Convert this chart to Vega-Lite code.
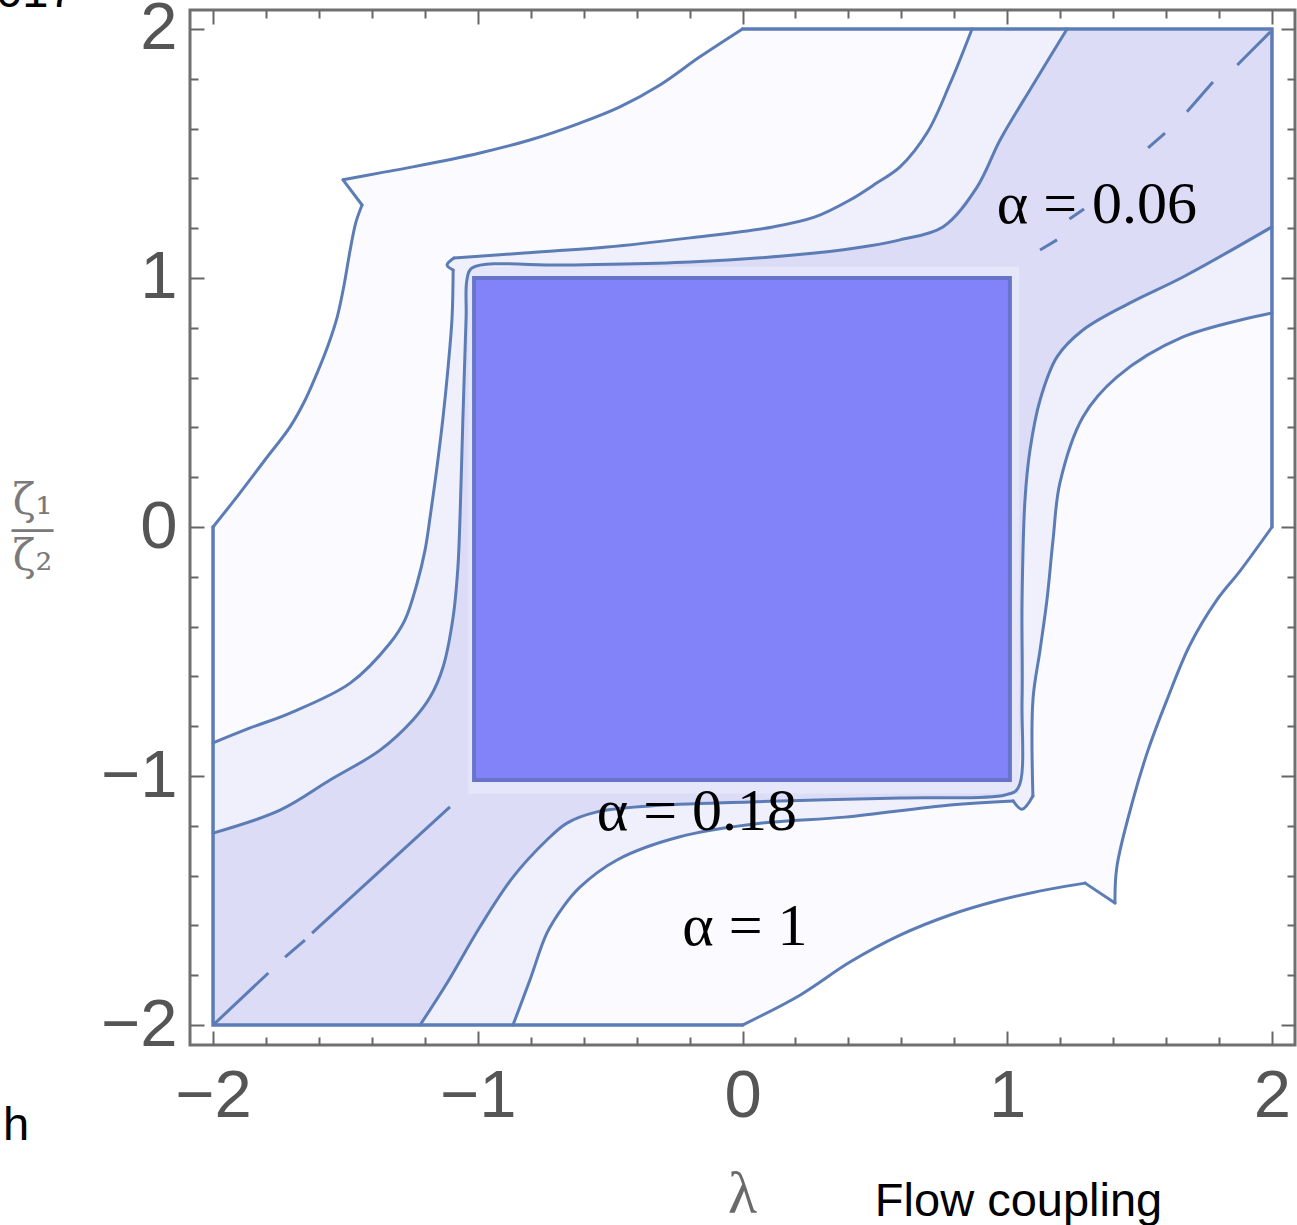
{
  "$schema": "https://vega.github.io/schema/vega-lite/v6.json",
  "width": 1105,
  "height": 1035,
  "autosize": {"type": "none"},
  "padding": {"left": 190, "top": 10, "right": 2, "bottom": 180},
  "background": "white",
  "config": {"view": {"stroke": "#707070", "strokeWidth": 3}},
  "datasets": {
    "poly": [
      {"r":"F0","i":0,"x":-2,"y":0},{"r":"F0","i":1,"x":-1.898,"y":0.137},{"r":"F0","i":2,"x":-1.804,"y":0.269},{"r":"F0","i":3,"x":-1.709,"y":0.402},{"r":"F0","i":4,"x":-1.652,"y":0.51},{"r":"F0","i":5,"x":-1.607,"y":0.618},{"r":"F0","i":6,"x":-1.565,"y":0.731},{"r":"F0","i":7,"x":-1.531,"y":0.843},{"r":"F0","i":8,"x":-1.505,"y":0.972},{"r":"F0","i":9,"x":-1.482,"y":1.112},{"r":"F0","i":10,"x":-1.46,"y":1.225},{"r":"F0","i":11,"x":-1.437,"y":1.293},{"r":"F0","i":12,"x":-1.509,"y":1.394},{"r":"F0","i":13,"x":-1.369,"y":1.422},{"r":"F0","i":14,"x":-1.245,"y":1.446},{"r":"F0","i":15,"x":-0.992,"y":1.502},{"r":"F0","i":16,"x":-0.803,"y":1.554},{"r":"F0","i":17,"x":-0.614,"y":1.622},{"r":"F0","i":18,"x":-0.463,"y":1.687},{"r":"F0","i":19,"x":-0.312,"y":1.775},{"r":"F0","i":20,"x":-0.161,"y":1.888},{"r":"F0","i":21,"x":0,"y":2},{"r":"F0","i":22,"x":2,"y":2},{"r":"F0","i":23,"x":2,"y":0},{"r":"F0","i":24,"x":1.879,"y":-0.177},{"r":"F0","i":25,"x":1.792,"y":-0.293},{"r":"F0","i":26,"x":1.69,"y":-0.474},{"r":"F0","i":27,"x":1.603,"y":-0.695},{"r":"F0","i":28,"x":1.532,"y":-0.896},{"r":"F0","i":29,"x":1.475,"y":-1.096},{"r":"F0","i":30,"x":1.414,"y":-1.365},{"r":"F0","i":31,"x":1.407,"y":-1.51},{"r":"F0","i":32,"x":1.294,"y":-1.43},{"r":"F0","i":33,"x":1.161,"y":-1.454},{"r":"F0","i":34,"x":0.973,"y":-1.498},{"r":"F0","i":35,"x":0.784,"y":-1.558},{"r":"F0","i":36,"x":0.595,"y":-1.639},{"r":"F0","i":37,"x":0.406,"y":-1.747},{"r":"F0","i":38,"x":0.217,"y":-1.88},{"r":"F0","i":39,"x":0,"y":-2},{"r":"F0","i":40,"x":-2,"y":-2},{"r":"F0","i":41,"x":-2,"y":0},
      {"r":"F1","i":0,"x":-2,"y":-0.867},{"r":"F1","i":1,"x":-1.86,"y":-0.807},{"r":"F1","i":2,"x":-1.709,"y":-0.747},{"r":"F1","i":3,"x":-1.482,"y":-0.627},{"r":"F1","i":4,"x":-1.331,"y":-0.466},{"r":"F1","i":5,"x":-1.275,"y":-0.373},{"r":"F1","i":6,"x":-1.229,"y":-0.225},{"r":"F1","i":7,"x":-1.199,"y":-0.092},{"r":"F1","i":8,"x":-1.18,"y":0.04},{"r":"F1","i":9,"x":-1.154,"y":0.241},{"r":"F1","i":10,"x":-1.131,"y":0.442},{"r":"F1","i":11,"x":-1.112,"y":0.643},{"r":"F1","i":12,"x":-1.097,"y":0.843},{"r":"F1","i":13,"x":-1.093,"y":1.032},{"r":"F1","i":14,"x":-1.116,"y":1.052},{"r":"F1","i":15,"x":-1.09,"y":1.08},{"r":"F1","i":16,"x":-0.825,"y":1.1},{"r":"F1","i":17,"x":-0.512,"y":1.124},{"r":"F1","i":18,"x":-0.198,"y":1.161},{"r":"F1","i":19,"x":0.115,"y":1.205},{"r":"F1","i":20,"x":0.274,"y":1.245},{"r":"F1","i":21,"x":0.406,"y":1.313},{"r":"F1","i":22,"x":0.508,"y":1.382},{"r":"F1","i":23,"x":0.595,"y":1.446},{"r":"F1","i":24,"x":0.699,"y":1.586},{"r":"F1","i":25,"x":0.785,"y":1.783},{"r":"F1","i":26,"x":0.867,"y":2},{"r":"F1","i":27,"x":2,"y":2},{"r":"F1","i":28,"x":2,"y":0.859},{"r":"F1","i":29,"x":1.664,"y":0.763},{"r":"F1","i":30,"x":1.414,"y":0.602},{"r":"F1","i":31,"x":1.286,"y":0.442},{"r":"F1","i":32,"x":1.199,"y":0.177},{"r":"F1","i":33,"x":1.173,"y":-0.052},{"r":"F1","i":34,"x":1.15,"y":-0.293},{"r":"F1","i":35,"x":1.124,"y":-0.494},{"r":"F1","i":36,"x":1.097,"y":-0.695},{"r":"F1","i":37,"x":1.097,"y":-1.08},{"r":"F1","i":38,"x":1.056,"y":-1.133},{"r":"F1","i":39,"x":1.022,"y":-1.1},{"r":"F1","i":40,"x":0.784,"y":-1.116},{"r":"F1","i":41,"x":0.387,"y":-1.165},{"r":"F1","i":42,"x":0.074,"y":-1.189},{"r":"F1","i":43,"x":-0.24,"y":-1.245},{"r":"F1","i":44,"x":-0.474,"y":-1.337},{"r":"F1","i":45,"x":-0.614,"y":-1.446},{"r":"F1","i":46,"x":-0.678,"y":-1.526},{"r":"F1","i":47,"x":-0.739,"y":-1.631},{"r":"F1","i":48,"x":-0.803,"y":-1.819},{"r":"F1","i":49,"x":-0.867,"y":-2},{"r":"F1","i":50,"x":-2,"y":-2},{"r":"F1","i":51,"x":-2,"y":-0.867},
      {"r":"F2","i":0,"x":-2,"y":-1.229},{"r":"F2","i":1,"x":-1.747,"y":-1.137},{"r":"F2","i":2,"x":-1.558,"y":-1.016},{"r":"F2","i":3,"x":-1.369,"y":-0.896},{"r":"F2","i":4,"x":-1.245,"y":-0.775},{"r":"F2","i":5,"x":-1.18,"y":-0.683},{"r":"F2","i":6,"x":-1.131,"y":-0.562},{"r":"F2","i":7,"x":-1.093,"y":-0.361},{"r":"F2","i":8,"x":-1.075,"y":-0.161},{"r":"F2","i":9,"x":-1.067,"y":0.04},{"r":"F2","i":10,"x":-1.056,"y":0.442},{"r":"F2","i":11,"x":-1.044,"y":0.843},{"r":"F2","i":12,"x":-1.041,"y":0.992},{"r":"F2","i":13,"x":-1.022,"y":1.04},{"r":"F2","i":14,"x":-0.667,"y":1.052},{"r":"F2","i":15,"x":-0.198,"y":1.064},{"r":"F2","i":16,"x":0.274,"y":1.1},{"r":"F2","i":17,"x":0.482,"y":1.129},{"r":"F2","i":18,"x":0.595,"y":1.153},{"r":"F2","i":19,"x":0.757,"y":1.205},{"r":"F2","i":20,"x":0.886,"y":1.365},{"r":"F2","i":21,"x":0.973,"y":1.554},{"r":"F2","i":22,"x":1.097,"y":1.775},{"r":"F2","i":23,"x":1.226,"y":2},{"r":"F2","i":24,"x":2,"y":2},{"r":"F2","i":25,"x":2,"y":1.205},{"r":"F2","i":26,"x":1.664,"y":1.004},{"r":"F2","i":27,"x":1.464,"y":0.9},{"r":"F2","i":28,"x":1.286,"y":0.791},{"r":"F2","i":29,"x":1.188,"y":0.683},{"r":"F2","i":30,"x":1.124,"y":0.51},{"r":"F2","i":31,"x":1.086,"y":0.309},{"r":"F2","i":32,"x":1.067,"y":0.108},{"r":"F2","i":33,"x":1.056,"y":-0.293},{"r":"F2","i":34,"x":1.056,"y":-0.695},{"r":"F2","i":35,"x":1.041,"y":-1.048},{"r":"F2","i":36,"x":0.992,"y":-1.076},{"r":"F2","i":37,"x":0.595,"y":-1.088},{"r":"F2","i":38,"x":0.028,"y":-1.104},{"r":"F2","i":39,"x":-0.349,"y":-1.12},{"r":"F2","i":40,"x":-0.553,"y":-1.145},{"r":"F2","i":41,"x":-0.663,"y":-1.189},{"r":"F2","i":42,"x":-0.739,"y":-1.257},{"r":"F2","i":43,"x":-0.867,"y":-1.406},{"r":"F2","i":44,"x":-0.992,"y":-1.606},{"r":"F2","i":45,"x":-1.116,"y":-1.831},{"r":"F2","i":46,"x":-1.218,"y":-2},{"r":"F2","i":47,"x":-2,"y":-2},{"r":"F2","i":48,"x":-2,"y":-1.229}
    ],
    "curves": [
      {"c":"L1a","i":0,"x":-2,"y":0},{"c":"L1a","i":1,"x":-1.898,"y":0.137},{"c":"L1a","i":2,"x":-1.804,"y":0.269},{"c":"L1a","i":3,"x":-1.709,"y":0.402},{"c":"L1a","i":4,"x":-1.652,"y":0.51},{"c":"L1a","i":5,"x":-1.607,"y":0.618},{"c":"L1a","i":6,"x":-1.565,"y":0.731},{"c":"L1a","i":7,"x":-1.531,"y":0.843},{"c":"L1a","i":8,"x":-1.505,"y":0.972},{"c":"L1a","i":9,"x":-1.482,"y":1.112},{"c":"L1a","i":10,"x":-1.46,"y":1.225},{"c":"L1a","i":11,"x":-1.437,"y":1.293},
      {"c":"L1t","i":0,"x":-1.437,"y":1.293},{"c":"L1t","i":1,"x":-1.509,"y":1.394},
      {"c":"L1b","i":0,"x":-1.509,"y":1.394},{"c":"L1b","i":1,"x":-1.369,"y":1.422},{"c":"L1b","i":2,"x":-1.245,"y":1.446},{"c":"L1b","i":3,"x":-0.992,"y":1.502},{"c":"L1b","i":4,"x":-0.803,"y":1.554},{"c":"L1b","i":5,"x":-0.614,"y":1.622},{"c":"L1b","i":6,"x":-0.463,"y":1.687},{"c":"L1b","i":7,"x":-0.312,"y":1.775},{"c":"L1b","i":8,"x":-0.161,"y":1.888},{"c":"L1b","i":9,"x":0,"y":2},
      {"c":"M1a","i":0,"x":0,"y":-2},{"c":"M1a","i":1,"x":0.217,"y":-1.88},{"c":"M1a","i":2,"x":0.406,"y":-1.747},{"c":"M1a","i":3,"x":0.595,"y":-1.639},{"c":"M1a","i":4,"x":0.784,"y":-1.558},{"c":"M1a","i":5,"x":0.973,"y":-1.498},{"c":"M1a","i":6,"x":1.161,"y":-1.454},{"c":"M1a","i":7,"x":1.294,"y":-1.43},
      {"c":"M1t","i":0,"x":1.294,"y":-1.43},{"c":"M1t","i":1,"x":1.407,"y":-1.51},
      {"c":"M1b","i":0,"x":1.407,"y":-1.51},{"c":"M1b","i":1,"x":1.414,"y":-1.365},{"c":"M1b","i":2,"x":1.475,"y":-1.096},{"c":"M1b","i":3,"x":1.532,"y":-0.896},{"c":"M1b","i":4,"x":1.603,"y":-0.695},{"c":"M1b","i":5,"x":1.69,"y":-0.474},{"c":"M1b","i":6,"x":1.792,"y":-0.293},{"c":"M1b","i":7,"x":1.879,"y":-0.177},{"c":"M1b","i":8,"x":2,"y":0},
      {"c":"L2a","i":0,"x":-2,"y":-0.867},{"c":"L2a","i":1,"x":-1.86,"y":-0.807},{"c":"L2a","i":2,"x":-1.709,"y":-0.747},{"c":"L2a","i":3,"x":-1.482,"y":-0.627},{"c":"L2a","i":4,"x":-1.331,"y":-0.466},{"c":"L2a","i":5,"x":-1.275,"y":-0.373},{"c":"L2a","i":6,"x":-1.229,"y":-0.225},{"c":"L2a","i":7,"x":-1.199,"y":-0.092},{"c":"L2a","i":8,"x":-1.18,"y":0.04},{"c":"L2a","i":9,"x":-1.154,"y":0.241},{"c":"L2a","i":10,"x":-1.131,"y":0.442},{"c":"L2a","i":11,"x":-1.112,"y":0.643},{"c":"L2a","i":12,"x":-1.097,"y":0.843},{"c":"L2a","i":13,"x":-1.093,"y":1.032},
      {"c":"L2n","i":0,"x":-1.093,"y":1.032},{"c":"L2n","i":1,"x":-1.116,"y":1.052},{"c":"L2n","i":2,"x":-1.09,"y":1.08},
      {"c":"L2b","i":0,"x":-1.09,"y":1.08},{"c":"L2b","i":1,"x":-0.825,"y":1.1},{"c":"L2b","i":2,"x":-0.512,"y":1.124},{"c":"L2b","i":3,"x":-0.198,"y":1.161},{"c":"L2b","i":4,"x":0.115,"y":1.205},{"c":"L2b","i":5,"x":0.274,"y":1.245},{"c":"L2b","i":6,"x":0.406,"y":1.313},{"c":"L2b","i":7,"x":0.508,"y":1.382},{"c":"L2b","i":8,"x":0.595,"y":1.446},{"c":"L2b","i":9,"x":0.699,"y":1.586},{"c":"L2b","i":10,"x":0.785,"y":1.783},{"c":"L2b","i":11,"x":0.867,"y":2},
      {"c":"M2a","i":0,"x":-0.867,"y":-2},{"c":"M2a","i":1,"x":-0.803,"y":-1.819},{"c":"M2a","i":2,"x":-0.739,"y":-1.631},{"c":"M2a","i":3,"x":-0.678,"y":-1.526},{"c":"M2a","i":4,"x":-0.614,"y":-1.446},{"c":"M2a","i":5,"x":-0.474,"y":-1.337},{"c":"M2a","i":6,"x":-0.24,"y":-1.245},{"c":"M2a","i":7,"x":0.074,"y":-1.189},{"c":"M2a","i":8,"x":0.387,"y":-1.165},{"c":"M2a","i":9,"x":0.784,"y":-1.116},{"c":"M2a","i":10,"x":1.022,"y":-1.1},
      {"c":"M2n","i":0,"x":1.022,"y":-1.1},{"c":"M2n","i":1,"x":1.056,"y":-1.133},{"c":"M2n","i":2,"x":1.097,"y":-1.08},
      {"c":"M2b","i":0,"x":1.097,"y":-1.08},{"c":"M2b","i":1,"x":1.097,"y":-0.695},{"c":"M2b","i":2,"x":1.124,"y":-0.494},{"c":"M2b","i":3,"x":1.15,"y":-0.293},{"c":"M2b","i":4,"x":1.173,"y":-0.052},{"c":"M2b","i":5,"x":1.199,"y":0.177},{"c":"M2b","i":6,"x":1.286,"y":0.442},{"c":"M2b","i":7,"x":1.414,"y":0.602},{"c":"M2b","i":8,"x":1.664,"y":0.763},{"c":"M2b","i":9,"x":2,"y":0.859},
      {"c":"L3","i":0,"x":-2,"y":-1.229},{"c":"L3","i":1,"x":-1.747,"y":-1.137},{"c":"L3","i":2,"x":-1.558,"y":-1.016},{"c":"L3","i":3,"x":-1.369,"y":-0.896},{"c":"L3","i":4,"x":-1.245,"y":-0.775},{"c":"L3","i":5,"x":-1.18,"y":-0.683},{"c":"L3","i":6,"x":-1.131,"y":-0.562},{"c":"L3","i":7,"x":-1.093,"y":-0.361},{"c":"L3","i":8,"x":-1.075,"y":-0.161},{"c":"L3","i":9,"x":-1.067,"y":0.04},{"c":"L3","i":10,"x":-1.056,"y":0.442},{"c":"L3","i":11,"x":-1.044,"y":0.843},{"c":"L3","i":12,"x":-1.041,"y":0.992},{"c":"L3","i":13,"x":-1.022,"y":1.04},{"c":"L3","i":14,"x":-0.667,"y":1.052},{"c":"L3","i":15,"x":-0.198,"y":1.064},{"c":"L3","i":16,"x":0.274,"y":1.1},{"c":"L3","i":17,"x":0.482,"y":1.129},{"c":"L3","i":18,"x":0.595,"y":1.153},{"c":"L3","i":19,"x":0.757,"y":1.205},{"c":"L3","i":20,"x":0.886,"y":1.365},{"c":"L3","i":21,"x":0.973,"y":1.554},{"c":"L3","i":22,"x":1.097,"y":1.775},{"c":"L3","i":23,"x":1.226,"y":2},
      {"c":"M3","i":0,"x":-1.218,"y":-2},{"c":"M3","i":1,"x":-1.116,"y":-1.831},{"c":"M3","i":2,"x":-0.992,"y":-1.606},{"c":"M3","i":3,"x":-0.867,"y":-1.406},{"c":"M3","i":4,"x":-0.739,"y":-1.257},{"c":"M3","i":5,"x":-0.663,"y":-1.189},{"c":"M3","i":6,"x":-0.553,"y":-1.145},{"c":"M3","i":7,"x":-0.349,"y":-1.12},{"c":"M3","i":8,"x":0.028,"y":-1.104},{"c":"M3","i":9,"x":0.595,"y":-1.088},{"c":"M3","i":10,"x":0.992,"y":-1.076},{"c":"M3","i":11,"x":1.041,"y":-1.048},{"c":"M3","i":12,"x":1.056,"y":-0.695},{"c":"M3","i":13,"x":1.056,"y":-0.293},{"c":"M3","i":14,"x":1.067,"y":0.108},{"c":"M3","i":15,"x":1.086,"y":0.309},{"c":"M3","i":16,"x":1.124,"y":0.51},{"c":"M3","i":17,"x":1.188,"y":0.683},{"c":"M3","i":18,"x":1.286,"y":0.791},{"c":"M3","i":19,"x":1.464,"y":0.9},{"c":"M3","i":20,"x":1.664,"y":1.004},{"c":"M3","i":21,"x":2,"y":1.205}
    ],
    "edges": [
      {"e":"E1","i":0,"x":-2,"y":0},{"e":"E1","i":1,"x":-2,"y":-2},{"e":"E1","i":2,"x":0,"y":-2},
      {"e":"E2","i":0,"x":0,"y":2},{"e":"E2","i":1,"x":2,"y":2},{"e":"E2","i":2,"x":2,"y":0}
    ],
    "boxes": [
      {"k":"band","x1":-1.035,"x2":1.045,"y1":-1.07,"y2":1.045},
      {"k":"core","x1":-1.014,"x2":1.01,"y1":-1.016,"y2":1.0}
    ],
    "dashes": [
      {"x":-2,"y":-2,"x2":-1.791,"y2":-1.791},
      {"x":-1.728,"y":-1.727,"x2":-1.653,"y2":-1.659},
      {"x":-1.626,"y":-1.631,"x2":-1.105,"y2":-1.124},
      {"x":1.994,"y":1.988,"x2":1.869,"y2":1.855},
      {"x":1.777,"y":1.787,"x2":1.679,"y2":1.667},
      {"x":1.596,"y":1.582,"x2":1.532,"y2":1.522},
      {"x":1.29,"y":1.277,"x2":1.235,"y2":1.237},
      {"x":1.188,"y":1.153,"x2":1.124,"y2":1.112}
    ],
    "notes": [
      {"t":"α = 0.06","x":1.339,"y":1.221},
      {"t":"α = 0.18","x":-0.172,"y":-1.217},
      {"t":"α = 1","x":0.009,"y":-1.679}
    ],
    "extras": [
      {"t":"Flow coupling","x":0.5,"y":-2.767},
      {"t":"h","x":-2.793,"y":-2.462},
      {"t":"2017","x":-2.918,"y":2.088}
    ]
  },
  "resolve": {"axis": {"x": "independent", "y": "independent"}},
  "layer": [
    {
      "data": {"name": "poly"},
      "transform": [{"filter": "datum.r === 'F0'"}],
      "mark": {"type": "line", "fill": "#fbfbff", "stroke": "#ffffff", "strokeOpacity": 0, "strokeWidth": 0},
      "encoding": {
        "x": {"field": "x", "type": "quantitative", "scale": {"domain": [-2.087, 2.087], "nice": false, "zero": false},
          "axis": {"orient": "bottom", "values": [-2,-1.8,-1.6,-1.4,-1.2,-1,-0.8,-0.6,-0.4,-0.2,0,0.2,0.4,0.6,0.8,1,1.2,1.4,1.6,1.8,2],
            "labelExpr": "abs(datum.value - round(datum.value)) < 0.001 ? format(datum.value, 'd') : ''",
            "labelFont": "Liberation Sans", "labelFontSize": 67, "labelColor": "#555555", "labelBaseline": "alphabetic", "labelPadding": 85,
            "labelOverlap": false, "labelFlush": false, "labelBound": false,
            "tickSize": {"condition": {"test": "abs(datum.value - round(datum.value)) < 0.001", "value": -14}, "value": -8},
            "tickColor": "#666666", "tickWidth": 2, "domain": false, "grid": false,
            "title": "λ", "titleFont": "Liberation Serif", "titleFontSize": 60, "titleFontWeight": "normal", "titleColor": "#6a6a6a",
            "titleBaseline": "alphabetic", "titleAlign": "center", "titleX": 552, "titleY": 167}},
        "y": {"field": "y", "type": "quantitative", "scale": {"domain": [-2.08, 2.076], "nice": false, "zero": false},
          "axis": {"orient": "left", "values": [-2,-1.8,-1.6,-1.4,-1.2,-1,-0.8,-0.6,-0.4,-0.2,0,0.2,0.4,0.6,0.8,1,1.2,1.4,1.6,1.8,2],
            "labelExpr": "abs(datum.value - round(datum.value)) < 0.001 ? format(datum.value, 'd') : ''",
            "labelFont": "Liberation Sans", "labelFontSize": 67, "labelColor": "#555555", "labelAlign": "right", "labelBaseline": "middle", "labelPadding": 27,
            "labelOverlap": false, "labelFlush": false, "labelBound": false,
            "tickSize": {"condition": {"test": "abs(datum.value - round(datum.value)) < 0.001", "value": -14}, "value": -8},
            "tickColor": "#666666", "tickWidth": 2, "domain": false, "grid": false,
            "title": ["ζ₁", "―", "ζ₂"], "titleFont": "DejaVu Serif", "titleFontSize": 42, "titleFontWeight": "normal", "titleColor": "#7a7a7a",
            "titleAngle": 0, "titleAlign": "center", "titleBaseline": "middle", "titleLineHeight": 28, "titleX": -158, "titleY": 490}},
        "order": {"field": "i", "type": "quantitative"}
      }
    },
    {
      "data": {"name": "poly"},
      "transform": [{"filter": "datum.r === 'F1'"}],
      "mark": {"type": "line", "fill": "#eff0fc", "stroke": "#ffffff", "strokeOpacity": 0, "strokeWidth": 0},
      "encoding": {
        "x": {"field": "x", "type": "quantitative", "scale": {"domain": [-2.087, 2.087], "nice": false, "zero": false},
          "axis": {"orient": "top", "values": [-2,-1.8,-1.6,-1.4,-1.2,-1,-0.8,-0.6,-0.4,-0.2,0,0.2,0.4,0.6,0.8,1,1.2,1.4,1.6,1.8,2],
            "labels": false, "tickSize": {"condition": {"test": "abs(datum.value - round(datum.value)) < 0.001", "value": -14}, "value": -8},
            "tickColor": "#666666", "tickWidth": 2, "domain": false, "grid": false, "title": null}},
        "y": {"field": "y", "type": "quantitative", "scale": {"domain": [-2.08, 2.076], "nice": false, "zero": false},
          "axis": {"orient": "right", "values": [-2,-1.8,-1.6,-1.4,-1.2,-1,-0.8,-0.6,-0.4,-0.2,0,0.2,0.4,0.6,0.8,1,1.2,1.4,1.6,1.8,2],
            "labels": false, "tickSize": {"condition": {"test": "abs(datum.value - round(datum.value)) < 0.001", "value": -14}, "value": -8},
            "tickColor": "#666666", "tickWidth": 2, "domain": false, "grid": false, "title": null}},
        "order": {"field": "i", "type": "quantitative"}
      }
    },
    {
      "data": {"name": "poly"},
      "transform": [{"filter": "datum.r === 'F2'"}],
      "mark": {"type": "line", "fill": "#dcdcf7", "stroke": "#ffffff", "strokeOpacity": 0, "strokeWidth": 0},
      "encoding": {
        "x": {"field": "x", "type": "quantitative", "scale": {"domain": [-2.087, 2.087], "nice": false, "zero": false}, "axis": null},
        "y": {"field": "y", "type": "quantitative", "scale": {"domain": [-2.08, 2.076], "nice": false, "zero": false}, "axis": null},
        "order": {"field": "i", "type": "quantitative"}
      }
    },
    {
      "data": {"name": "boxes"},
      "transform": [{"filter": "datum.k === 'band'"}],
      "mark": {"type": "rect", "fill": "#e5e6f9"},
      "encoding": {
        "x": {"field": "x1", "type": "quantitative", "scale": {"domain": [-2.087, 2.087], "nice": false, "zero": false}, "axis": null},
        "x2": {"field": "x2"},
        "y": {"field": "y1", "type": "quantitative", "scale": {"domain": [-2.08, 2.076], "nice": false, "zero": false}, "axis": null},
        "y2": {"field": "y2"}
      }
    },
    {
      "data": {"name": "curves"},
      "mark": {"type": "line", "stroke": "#5c7cb6", "strokeWidth": 3, "interpolate": "catmull-rom", "strokeCap": "round", "strokeJoin": "round"},
      "encoding": {
        "x": {"field": "x", "type": "quantitative", "scale": {"domain": [-2.087, 2.087], "nice": false, "zero": false}, "axis": null},
        "y": {"field": "y", "type": "quantitative", "scale": {"domain": [-2.08, 2.076], "nice": false, "zero": false}, "axis": null},
        "detail": {"field": "c"},
        "order": {"field": "i", "type": "quantitative"}
      }
    },
    {
      "data": {"name": "edges"},
      "mark": {"type": "line", "stroke": "#5c7cb6", "strokeWidth": 3.5, "strokeCap": "round", "strokeJoin": "miter"},
      "encoding": {
        "x": {"field": "x", "type": "quantitative", "scale": {"domain": [-2.087, 2.087], "nice": false, "zero": false}, "axis": null},
        "y": {"field": "y", "type": "quantitative", "scale": {"domain": [-2.08, 2.076], "nice": false, "zero": false}, "axis": null},
        "detail": {"field": "e"},
        "order": {"field": "i", "type": "quantitative"}
      }
    },
    {
      "data": {"name": "boxes"},
      "transform": [{"filter": "datum.k === 'core'"}],
      "mark": {"type": "rect", "fill": "#8383f9", "stroke": "#6675c9", "strokeWidth": 4},
      "encoding": {
        "x": {"field": "x1", "type": "quantitative", "scale": {"domain": [-2.087, 2.087], "nice": false, "zero": false}, "axis": null},
        "x2": {"field": "x2"},
        "y": {"field": "y1", "type": "quantitative", "scale": {"domain": [-2.08, 2.076], "nice": false, "zero": false}, "axis": null},
        "y2": {"field": "y2"}
      }
    },
    {
      "data": {"name": "dashes"},
      "mark": {"type": "rule", "stroke": "#5c7cb6", "strokeWidth": 3, "strokeCap": "butt"},
      "encoding": {
        "x": {"field": "x", "type": "quantitative", "scale": {"domain": [-2.087, 2.087], "nice": false, "zero": false}, "axis": null},
        "x2": {"field": "x2"},
        "y": {"field": "y", "type": "quantitative", "scale": {"domain": [-2.08, 2.076], "nice": false, "zero": false}, "axis": null},
        "y2": {"field": "y2"}
      }
    },
    {
      "data": {"name": "notes"},
      "mark": {"type": "text", "font": "Liberation Serif", "fontSize": 60, "align": "center", "baseline": "alphabetic", "color": "#000000"},
      "encoding": {
        "x": {"field": "x", "type": "quantitative", "scale": {"domain": [-2.087, 2.087], "nice": false, "zero": false}, "axis": null},
        "y": {"field": "y", "type": "quantitative", "scale": {"domain": [-2.08, 2.076], "nice": false, "zero": false}, "axis": null},
        "text": {"field": "t"}
      }
    },
    {
      "data": {"name": "extras"},
      "mark": {"type": "text", "font": "Liberation Sans", "fontSize": 47, "align": "left", "baseline": "alphabetic", "color": "#000000"},
      "encoding": {
        "x": {"field": "x", "type": "quantitative", "scale": {"domain": [-2.087, 2.087], "nice": false, "zero": false}, "axis": null},
        "y": {"field": "y", "type": "quantitative", "scale": {"domain": [-2.08, 2.076], "nice": false, "zero": false}, "axis": null},
        "text": {"field": "t"}
      }
    }
  ]
}
